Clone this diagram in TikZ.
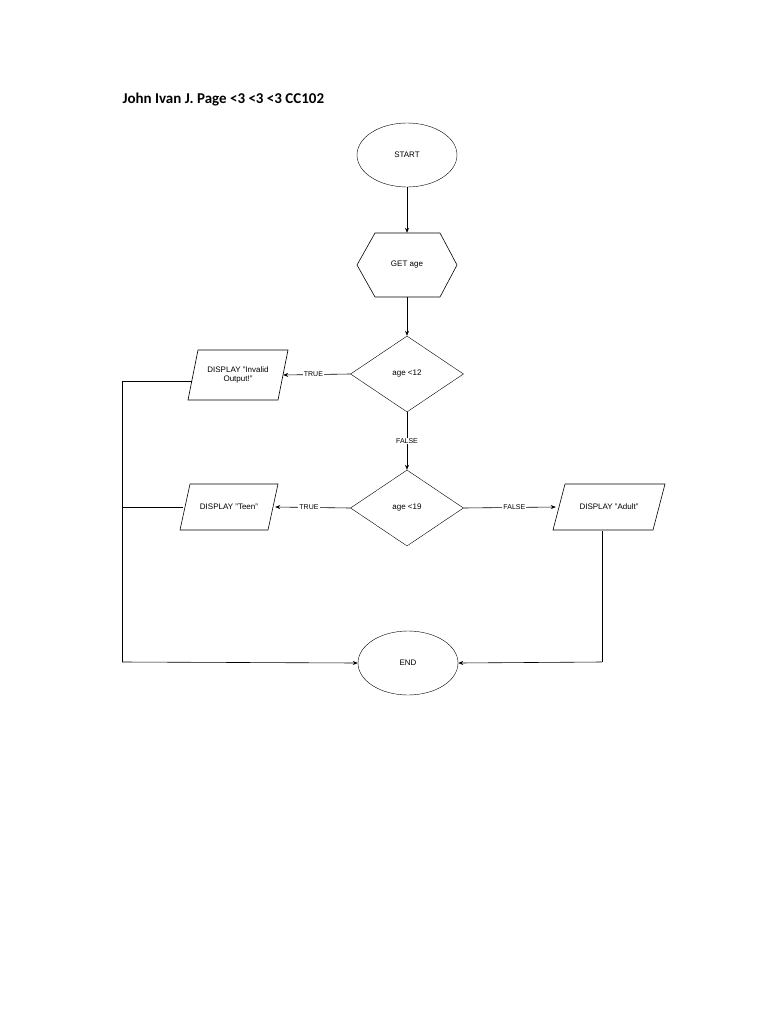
\documentclass[tikz,border=0pt]{standalone}
\usepackage{fontspec}
\setmainfont{Liberation Sans}
\newfontfamily\titlefont{Carlito}
\usetikzlibrary{shapes.geometric,arrows.meta}
\begin{document}
\begin{tikzpicture}[x=1pt,y=-1pt,
  term/.style={draw,ellipse,minimum width=100pt,minimum height=64pt,inner sep=0pt,font=\fontsize{8}{9}\selectfont},
  dec/.style={draw,diamond,aspect=1.5,minimum width=113pt,minimum height=76pt,inner sep=0pt,font=\fontsize{8}{9}\selectfont},
  io/.style={minimum height=48pt,inner sep=0pt,align=center,font=\fontsize{8}{9}\selectfont},
  shp/.style={semithick,line join=miter},
  lbl/.style={fill=white,inner sep=1pt,font=\fontsize{7}{8}\selectfont},
  arr/.style={-{Stealth[length=5pt,width=4pt]},semithick},
  ln/.style={semithick}]
\useasboundingbox (0,0) rectangle (768,1024);
\node[anchor=base west,font=\titlefont\bfseries\fontsize{15}{18}\selectfont] (title) at (119,104) {John Ivan J. Page <3 <3 <3 CC102};
\node[term] (start) at (407,155) {START};
\draw[shp] (375,233) -- (440,233) -- (457,265) -- (440,297) -- (375,297) -- (357,265) -- cycle;
\node[minimum width=100pt,minimum height=64pt,inner sep=0pt,font=\fontsize{8}{9}\selectfont] (get) at (407,265) {GET age};
\node[dec] (d1) at (407,374) {age <12};
\node[dec] (d2) at (407,508) {age <19};
\draw[shp] (198,350) -- (288,350) -- (278,400) -- (188,400) -- cycle;
\node[io,minimum width=90pt] (inv) at (238,375) {DISPLAY "Invalid\\Output!"};
\draw[shp] (190,484) -- (278,484) -- (268,530) -- (180,530) -- cycle;
\node[io,minimum width=92pt] (teen) at (229,507) {DISPLAY "Teen"};
\draw[shp] (565,484) -- (665,484) -- (653,530) -- (553,530) -- cycle;
\node[io,minimum width=106pt] (adult) at (609,507) {DISPLAY "Adult"};
\node[term] (end) at (408,663) {END};
\coordinate (c1) at (122,381);
\coordinate (c2) at (122,662);
\coordinate (c3) at (122,507);
\coordinate (c4) at (602,531);
\coordinate (c5) at (602,662);
\draw[arr] (start) -- (get);
\draw[arr] (get) -- (d1);
\draw[arr] (d1.west) -- node[lbl,pos=0.55]{TRUE} (inv.east);
\draw[arr] (d1.south) -- node[lbl,pos=0.5]{FALSE} (d2.north);
\draw[arr] (d2.west) -- node[lbl,pos=0.55]{TRUE} (teen.east);
\draw[arr] (d2.east) -- node[lbl,pos=0.55]{FALSE} (adult.west);
\draw[ln] (192,381) -- (c1) -- (c2);
\draw[arr] (c2) -- (end.west);
\draw[ln] (teen.west) -- (c3);
\draw[ln] (c4) -- (c5);
\draw[arr] (c5) -- (end.east);
\end{tikzpicture}
\end{document}
